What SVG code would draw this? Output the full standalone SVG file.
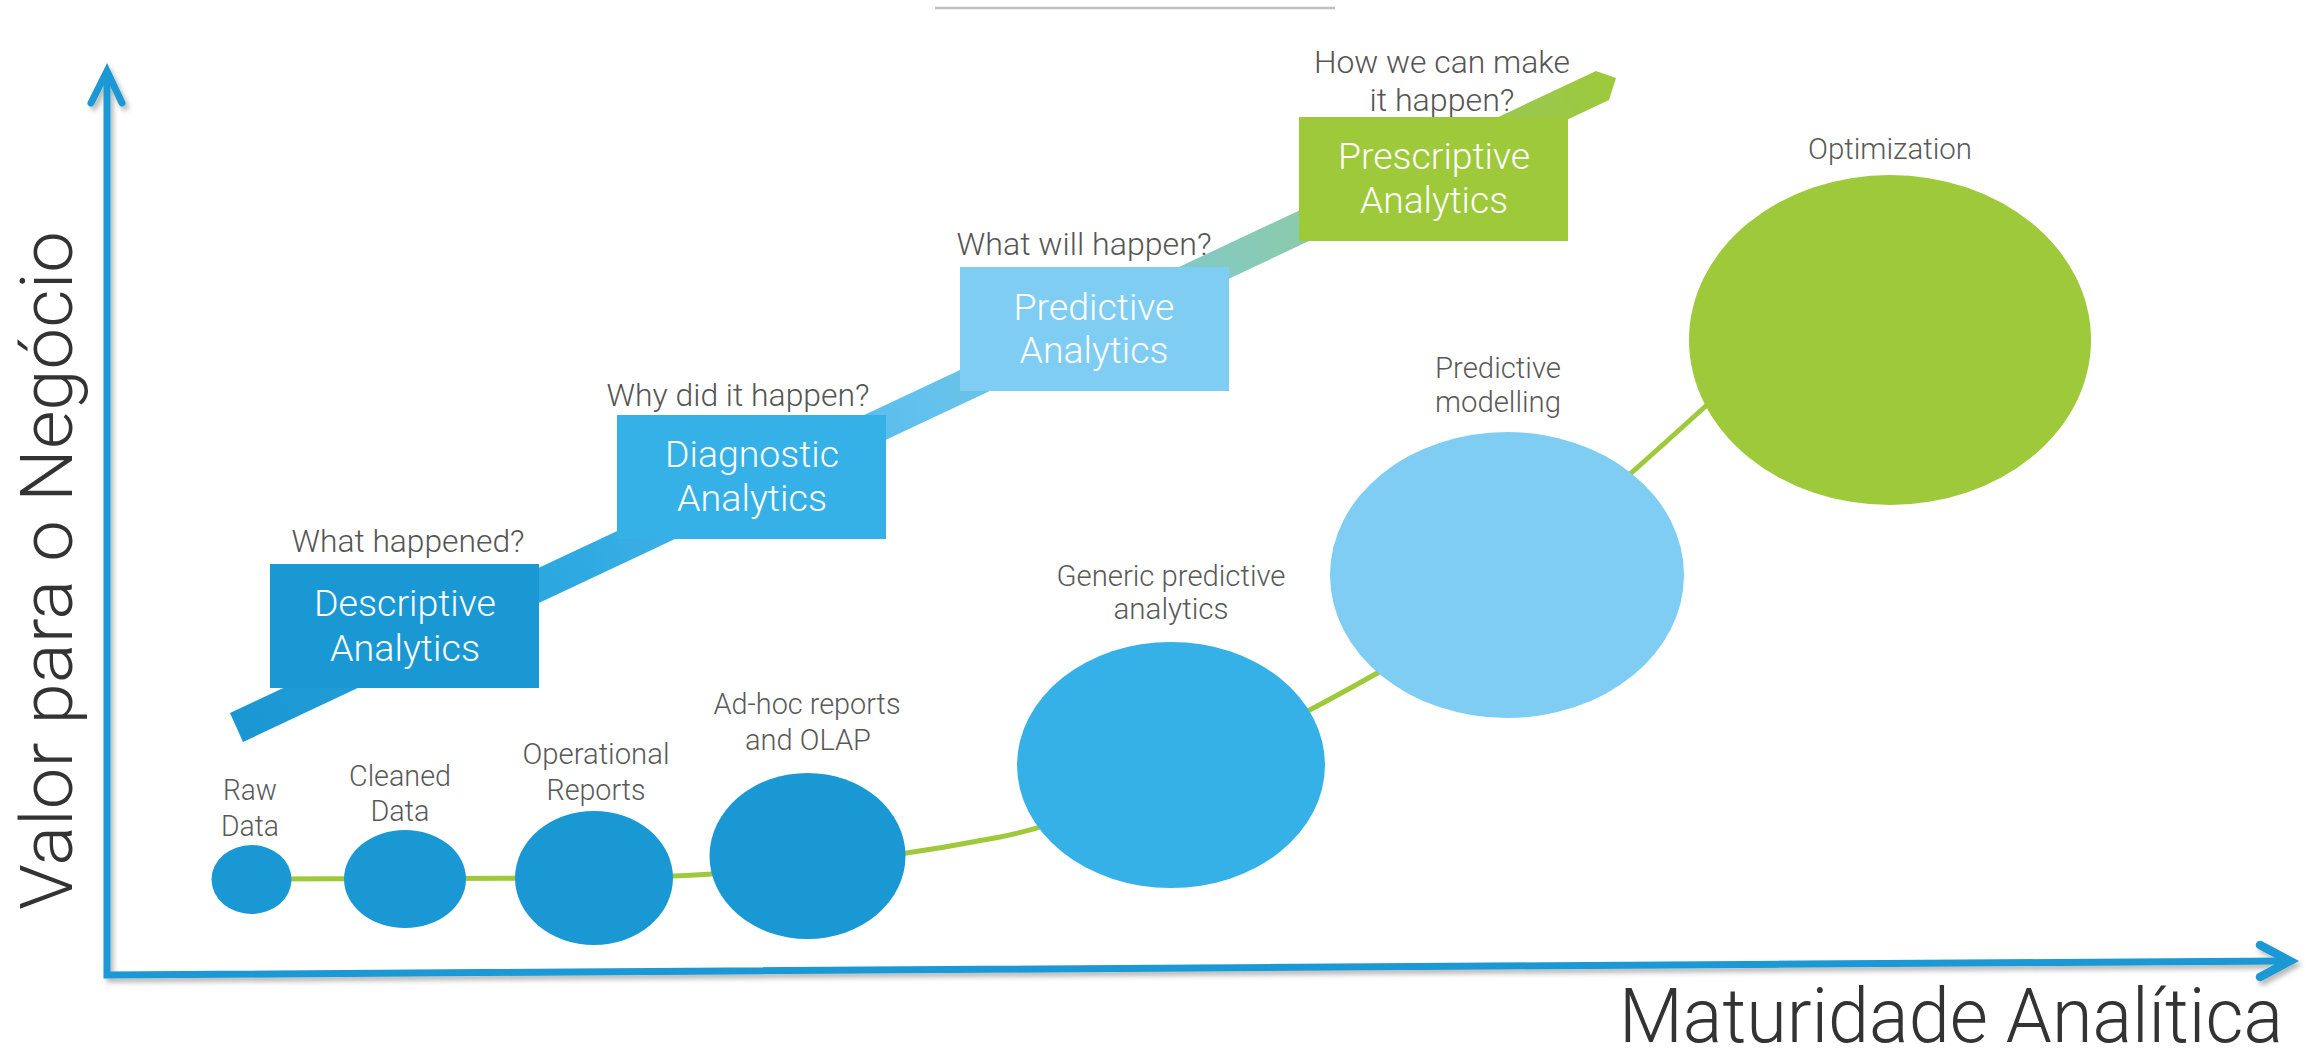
<svg xmlns="http://www.w3.org/2000/svg" width="2313" height="1048" viewBox="0 0 2313 1048">
  <defs>
    <linearGradient id="bandGrad" gradientUnits="userSpaceOnUse" x1="236" y1="727" x2="1606" y2="85">
      <stop offset="0" stop-color="#1a96d2"/>
      <stop offset="0.25" stop-color="#2fa9e2"/>
      <stop offset="0.5" stop-color="#62c1ee"/>
      <stop offset="0.72" stop-color="#85cabe"/>
      <stop offset="0.8" stop-color="#8dcaa4"/>
      <stop offset="0.92" stop-color="#99c856"/>
      <stop offset="1" stop-color="#9dc93c"/>
    </linearGradient>
    <filter id="shadow" x="-5%" y="-5%" width="110%" height="110%">
      <feDropShadow dx="3" dy="4" stdDeviation="2.5" flood-color="#000" flood-opacity="0.28"/>
    </filter>
    <style>
      text { font-family: Roboto, "Liberation Sans", sans-serif; font-weight: 300; }
      .axis { fill: none; stroke: #1a98d4; stroke-linecap: round; stroke-linejoin: miter; }
      .q { font-size: 31px; fill: #555555; text-anchor: middle; }
      .bt { font-size: 37px; fill: #ffffff; text-anchor: middle; }
      .lbl { font-size: 29px; fill: #595959; text-anchor: middle; }
      .ax { font-size: 76px; fill: #333333; }
      .dark { fill: #1a98d4; }
      .mid { fill: #35b1e8; }
      .light { fill: #7fcdf2; }
      .green { fill: #9dc93b; }
    </style>
  </defs>

  <rect width="2313" height="1048" fill="#ffffff"/>

  <!-- top thin line -->
  <line x1="935" y1="8" x2="1335" y2="8" stroke="#c0c0c0" stroke-width="2.5"/>

  <!-- axes -->
  <g id="axes" filter="url(#shadow)">
    <path class="axis" stroke-width="7" d="M107,74 L107,975 L2287,961"/>
    <path class="axis" stroke-width="7" d="M91,103 L107,71 L122,103"/>
    <path class="axis" stroke-width="8.5" d="M2260,945 L2290,961 L2260,977"/>
  </g>
  <text id="y-label" class="ax" transform="translate(72,910) rotate(-90)" textLength="679" lengthAdjust="spacingAndGlyphs" style="font-size:72px">Valor para o Negócio</text>
  <text id="x-label" class="ax" x="1619" y="1042" textLength="664" lengthAdjust="spacingAndGlyphs">Maturidade Analítica</text>

  <!-- connectors -->
  <g id="connectors">
    <polygon id="value-band" fill="url(#bandGrad)" points="230,713 1596,71 1616,78 1609,100 243,742"/>
    <path id="maturity-curve" fill="none" stroke="#9dc93b" stroke-width="5" d="M250,879 L600,878 Q800,876 1000,837 C1100,817 1250,745 1381,671 C1460,626 1580,520 1708,404 L1800,330"/>
  </g>

  <!-- analytics boxes -->
  <g id="descriptive">
    <text class="q" x="408" y="552" textLength="233" lengthAdjust="spacingAndGlyphs">What happened?</text>
    <rect class="dark" x="270" y="564" width="269" height="124"/>
    <text class="bt" x="405" y="616" textLength="182" lengthAdjust="spacingAndGlyphs">Descriptive</text>
    <text class="bt" x="405" y="661" textLength="150" lengthAdjust="spacingAndGlyphs">Analytics</text>
  </g>
  <g id="diagnostic">
    <text class="q" x="738" y="406" textLength="263" lengthAdjust="spacingAndGlyphs">Why did it happen?</text>
    <rect class="mid" x="617" y="415" width="269" height="124"/>
    <text class="bt" x="752" y="467" textLength="174" lengthAdjust="spacingAndGlyphs">Diagnostic</text>
    <text class="bt" x="752" y="511" textLength="150" lengthAdjust="spacingAndGlyphs">Analytics</text>
  </g>
  <g id="predictive">
    <text class="q" x="1084" y="255" textLength="255" lengthAdjust="spacingAndGlyphs">What will happen?</text>
    <rect class="light" x="960" y="267" width="269" height="124"/>
    <text class="bt" x="1094" y="320" textLength="161" lengthAdjust="spacingAndGlyphs">Predictive</text>
    <text class="bt" x="1094" y="363" textLength="149" lengthAdjust="spacingAndGlyphs">Analytics</text>
  </g>
  <g id="prescriptive">
    <text class="q" x="1442" y="73" textLength="256" lengthAdjust="spacingAndGlyphs">How we can make</text>
    <text class="q" x="1442" y="111" textLength="145" lengthAdjust="spacingAndGlyphs">it happen?</text>
    <rect class="green" x="1299" y="117" width="269" height="124"/>
    <text class="bt" x="1434" y="169" textLength="192" lengthAdjust="spacingAndGlyphs">Prescriptive</text>
    <text class="bt" x="1434" y="213" textLength="148" lengthAdjust="spacingAndGlyphs">Analytics</text>
  </g>

  <!-- maturity stages -->
  <g id="raw-data">
    <ellipse class="dark" cx="251.5" cy="879.5" rx="40" ry="34.5"/>
    <text class="lbl" x="250" y="800" textLength="54" lengthAdjust="spacingAndGlyphs">Raw</text>
    <text class="lbl" x="250" y="836" textLength="58" lengthAdjust="spacingAndGlyphs">Data</text>
  </g>
  <g id="cleaned-data">
    <ellipse class="dark" cx="405" cy="879" rx="61" ry="49"/>
    <text class="lbl" x="400" y="786" textLength="102" lengthAdjust="spacingAndGlyphs">Cleaned</text>
    <text class="lbl" x="400" y="821" textLength="59" lengthAdjust="spacingAndGlyphs">Data</text>
  </g>
  <g id="operational-reports">
    <ellipse class="dark" cx="594" cy="878" rx="79" ry="67"/>
    <text class="lbl" x="596" y="764" textLength="147" lengthAdjust="spacingAndGlyphs">Operational</text>
    <text class="lbl" x="596" y="800" textLength="99" lengthAdjust="spacingAndGlyphs">Reports</text>
  </g>
  <g id="adhoc-reports">
    <ellipse class="dark" cx="807.5" cy="856" rx="98" ry="83"/>
    <text class="lbl" x="807" y="714" textLength="187" lengthAdjust="spacingAndGlyphs">Ad-hoc reports</text>
    <text class="lbl" x="808" y="750" textLength="126" lengthAdjust="spacingAndGlyphs">and OLAP</text>
  </g>
  <g id="generic-predictive">
    <ellipse class="mid" cx="1171" cy="765" rx="154" ry="123"/>
    <text class="lbl" x="1171" y="586" textLength="229" lengthAdjust="spacingAndGlyphs">Generic predictive</text>
    <text class="lbl" x="1171" y="619" textLength="115" lengthAdjust="spacingAndGlyphs">analytics</text>
  </g>
  <g id="predictive-modelling">
    <ellipse class="light" cx="1507" cy="575" rx="177" ry="143"/>
    <text class="lbl" x="1498" y="378" textLength="126" lengthAdjust="spacingAndGlyphs">Predictive</text>
    <text class="lbl" x="1498" y="412" textLength="126" lengthAdjust="spacingAndGlyphs">modelling</text>
  </g>
  <g id="optimization">
    <ellipse class="green" cx="1890" cy="340" rx="201" ry="165"/>
    <text class="lbl" x="1890" y="159" textLength="164" lengthAdjust="spacingAndGlyphs">Optimization</text>
  </g>
</svg>
